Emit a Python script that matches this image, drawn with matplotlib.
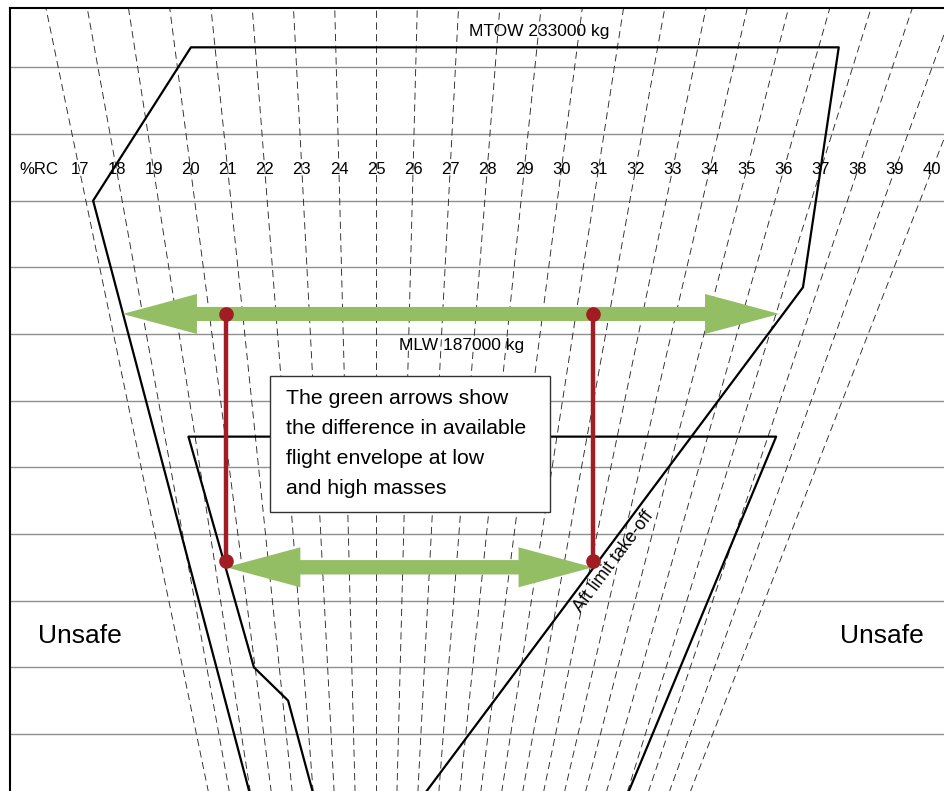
import numpy as np
import matplotlib.pyplot as plt
from matplotlib.patches import FancyArrow, Rectangle

plt.rcParams["font.family"] = ["Liberation Sans", "DejaVu Sans"]

# %RC lines of the balance chart
rc_lines = list(range(17, 41))
rc_labels = [str(p) for p in rc_lines]

# mass grid lines (t)
grid_mass = list(range(130, 231, 10))

# outer envelope: forward limit, MTOW, aft limit take-off (%RC, t)
outer_rc = [19.0, 17.2, 20.4, 36.5, 37.55, 27.1]
outer_mass = [120, 210, 233, 233, 197, 120]

# inner envelope (%RC, t)
inner_rc = [22.06, 21.23, 19.95, 18.78, 38.27, 37.01]
inner_mass = [120, 135, 140, 174.6, 174.6, 120]

mtow_kg = 233000
mlw_kg = 187000

# available envelope at high and low mass (%RC ends, t)
arrow_mass = [193, 155]
arrow_from = [17.4, 19.4]
arrow_to = [37.1, 33.1]

# red projection of the low-mass limits up to the high mass (t)
red_mass = [156, 193]

GREEN = "#93BE63"
RED = "#A21C24"
HEAD_LEN = 4.3


def index(rc, mass):
    """ Balance index of a %RC value at a given mass (t). """
    return (np.asarray(rc, dtype=float) - 25.0) * np.asarray(mass, dtype=float) / 100.0


fig = plt.figure(figsize=(9.44, 7.91), dpi=100)
ax = fig.add_axes([10 / 944, 0, 934 / 944, 783 / 791])
ax.set_xlim((10 - 376) / 17.27, (944 - 376) / 17.27)
ax.set_ylim(121.44, 238.9)
ax.set_xticks([])
ax.set_yticks([])
for side in ("right", "bottom"):
    ax.spines[side].set_visible(False)
for side in ("left", "top"):
    ax.spines[side].set_linewidth(1.5)
    ax.spines[side].set_color("black")

# mass grid
for m in grid_mass:
    ax.axhline(m, color="#8f8f8f", lw=1.0, zorder=1)

# fan of %RC lines
m_span = np.array([110.0, 245.0])
for p in rc_lines:
    ax.plot(index(p, m_span), m_span, color="#2a2a2a", lw=0.65,
            linestyle=(0, (8, 5)), zorder=2)

label_mass = 214.6
ax.text(index(15.9, label_mass), label_mass, "%RC", ha="center", va="center",
        fontsize=12, zorder=3)
for p, lab in zip(rc_lines, rc_labels):
    ax.text(index(p, label_mass), label_mass, lab, ha="center", va="center",
            fontsize=12, zorder=3)

# envelopes
ax.plot(index(outer_rc, outer_mass), outer_mass, color="black", lw=1.6, zorder=3)
ax.plot(index(inner_rc, inner_mass), inner_mass, color="black", lw=1.6, zorder=3)

ax.text(index(29.05, mtow_kg / 1000), mtow_kg / 1000 + 2.3,
        f"MTOW {mtow_kg} kg", ha="center", va="center", fontsize=12.5, zorder=3)
ax.text(index(27.66, mlw_kg / 1000), mlw_kg / 1000 + 1.2,
        f"MLW {mlw_kg} kg", ha="center", va="center", fontsize=12.5, zorder=3)

# green double arrows: two single arrows whose shafts meet under the heads
for m, a, b in zip(arrow_mass, arrow_from, arrow_to):
    xa, xb = index(a, m), index(b, m)
    for start, tip in ((xb - HEAD_LEN, xa), (xa + HEAD_LEN, xb)):
        ax.add_patch(FancyArrow(start, m, tip - start, 0, width=2.1, head_width=6.0,
                                head_length=HEAD_LEN, length_includes_head=True,
                                color=GREEN, lw=0, zorder=4))

# red projections
for rc in (arrow_from[1], arrow_to[1]):
    x = index(rc, arrow_mass[1])
    ax.plot([x, x], red_mass, color=RED, lw=3.2, zorder=5,
            solid_capstyle="butt")
    ax.plot([x, x], red_mass, "o", color=RED, ms=9.5, zorder=6)

# explanation box
ax.add_patch(Rectangle((-6.14, 163.3), 16.22, 20.4, facecolor="white",
                       edgecolor="#333333", lw=1.0, zorder=7))
ax.text(-5.21, 181.7,
        "The green arrows show\nthe difference in available\n"
        "flight envelope at low\nand high masses",
        ha="left", va="top", fontsize=15.3, linespacing=1.72, zorder=8)

# aft limit label along the envelope edge
x_hi, x_lo = index(outer_rc[4], outer_mass[4]), index(outer_rc[5], outer_mass[5])
m_lab = 157.0
x_lab = np.interp(m_lab, [outer_mass[5], outer_mass[4]], [x_lo, x_hi])
p1 = ax.transData.transform((x_hi, outer_mass[4]))
p2 = ax.transData.transform((x_lo, outer_mass[5]))
ang = np.degrees(np.arctan2(p1[1] - p2[1], p1[0] - p2[0]))
off = 2.5
ax.annotate("Aft limit take-off", (x_lab, m_lab),
            xytext=(off * np.sin(np.radians(ang)), -off * np.cos(np.radians(ang))),
            textcoords="offset points", rotation=ang, rotation_mode="anchor",
            ha="center", va="top", fontsize=12.8, zorder=3)

ax.text(-17.14, 144.7, "Unsafe", ha="center", va="center", fontsize=19, zorder=3)
ax.text(29.3, 144.7, "Unsafe", ha="center", va="center", fontsize=19, zorder=3)

fig.savefig("out.png", dpi=100)
